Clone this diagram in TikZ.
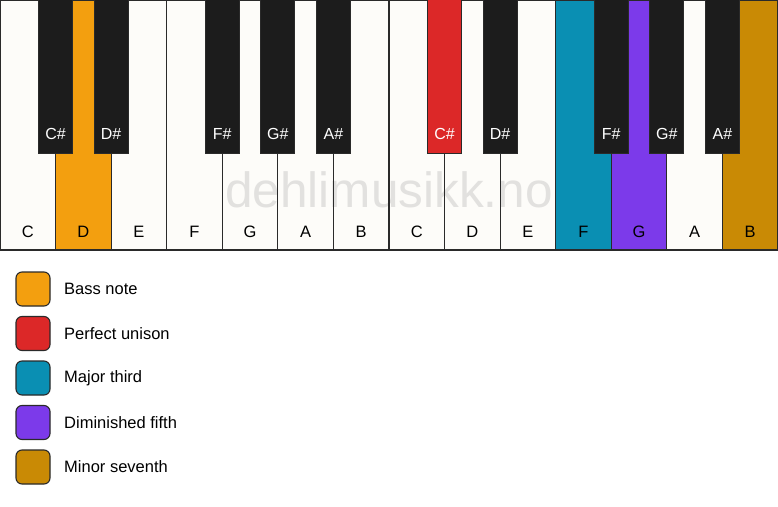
\documentclass[tikz,border=0pt]{standalone}
\usepackage{fontspec}
\setmainfont{Liberation Sans}
\definecolor{keywhite}{HTML}{FDFCF9}
\definecolor{keyblack}{HTML}{1C1C1C}
\definecolor{keyline}{HTML}{2A2A2A}
\definecolor{cbass}{HTML}{F39F0F}
\definecolor{cunison}{HTML}{DC2828}
\definecolor{cthird}{HTML}{0A8FB3}
\definecolor{cfifth}{HTML}{7C3AEA}
\definecolor{cseventh}{HTML}{C98A05}
\definecolor{wmark}{HTML}{E2E1DF}
\tikzset{
  whitekey/.style={draw=keyline, line width=1.1pt, fill=keywhite},
  blackkey/.style={draw=keyline, line width=1pt, fill=keyblack},
  wlabel/.style={font=\fontsize{16.5}{16.5}\selectfont, text=black, anchor=base},
  blabel/.style={font=\fontsize{16}{16}\selectfont, text=white, anchor=base},
  legbox/.style={draw=keyline, line width=1.1pt, rounded corners=6pt, minimum width=34pt, minimum height=34pt, inner sep=0pt},
  legtext/.style={font=\fontsize{16.5}{16.5}\selectfont, anchor=west, inner sep=0pt},
}
\begin{document}
\begin{tikzpicture}[x=1pt, y=-1pt]
\useasboundingbox (0,0) rectangle (778,506);
\fill[white] (0,0) rectangle (778,506);
\def\w{55.5714}
% white keys
\foreach \i/\n/\c in {0/C/keywhite,1/D/cbass,2/E/keywhite,3/F/keywhite,4/G/keywhite,5/A/keywhite,6/B/keywhite,7/C/keywhite,8/D/keywhite,9/E/keywhite,10/F/cthird,11/G/cfifth,12/A/keywhite,13/B/cseventh}{
  \fill[\c] ({\i*\w},0) rectangle ({(\i+1)*\w},250);
}
% watermark
\node[font=\fontsize{49.5}{49.5}\selectfont, text=wmark, anchor=base] (wm) at (389,207) {dehlimusikk.no};
\foreach \i/\n in {0/C,1/D,2/E,3/F,4/G,5/A,6/B,7/C,8/D,9/E,10/F,11/G,12/A,13/B}{
  \draw[whitekey, fill=none] ({\i*\w},0) rectangle ({(\i+1)*\w},250);
  \node[wlabel] (w\i) at ({(\i+0.5)*\w},237) {\n};
}
% black keys
\foreach \i/\n/\c in {1/C\#/keyblack,2/D\#/keyblack,4/F\#/keyblack,5/G\#/keyblack,6/A\#/keyblack,8/C\#/cunison,9/D\#/keyblack,11/F\#/keyblack,12/G\#/keyblack,13/A\#/keyblack}{
  \draw[blackkey, fill=\c] ({\i*\w-17},-1) rectangle ({\i*\w+17},153);
  \node[blabel] (b\i) at ({\i*\w},139) {\n};
}
% legend
\foreach \k/\c/\t in {0/cbass/Bass note,1/cunison/Perfect unison,2/cthird/Major third,3/cfifth/Diminished fifth,4/cseventh/Minor seventh}{
  \node[legbox, fill=\c] (lb\k) at (33,{289+\k*44.5}) {};
  \node[legtext] (lt\k) at (64,{289+\k*44.5}) {\t};
}
\end{tikzpicture}
\end{document}
